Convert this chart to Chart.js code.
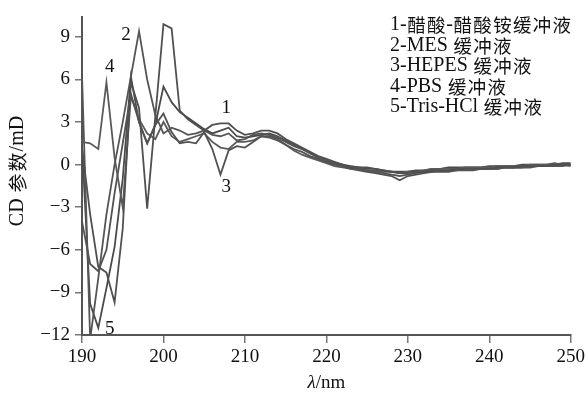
<!DOCTYPE html>
<html><head><meta charset="utf-8">
<script src="https://cdn.jsdelivr.net/npm/chart.js@4"></script>
<style>html,body{margin:0;padding:0;background:#fff;overflow:hidden}</style>
</head><body>
<canvas id="c" width="588" height="395"></canvas>
<script>
// ---- data (wavelength in nm, CD in mD) ----
const wavelengths = [190,191,192,193,194,195,196,197,198,199,200,201,202,203,204,205,206,207,208,209,210,
  211,212,213,214,215,216,217,218,219,220,221,222,223,224,225,226,227,228,229,230,
  231,232,233,234,235,236,237,238,239,240,241,242,243,244,245,246,247,248,249,250];
const acetate = [1.2,-3.5,-7.2,-7.6,-9.7,-4.5,5.8,4.0,-3.1,3.4,9.9,9.6,3.8,3.2,2.8,2.4,2.8,2.9,2.9,2.4,2.1,
  2.2,2.4,2.4,2.2,1.8,1.5,1.2,0.9,0.6,0.4,0.2,0.0,-0.2,-0.2,-0.2,-0.3,-0.4,-0.5,-0.6,-0.6,
  -0.5,-0.5,-0.4,-0.4,-0.4,-0.3,-0.3,-0.3,-0.3,-0.3,-0.2,-0.2,-0.2,-0.1,-0.1,-0.1,-0.1,0.0,0.0,-0.1];
const mes = [6.3,-12.3,-8.0,-3.5,0.0,3.0,6.2,9.4,6.0,3.5,2.2,2.6,2.4,2.1,2.2,2.4,2.1,2.0,2.2,1.7,1.8,
  2.1,2.2,2.1,1.9,1.6,1.3,1.1,0.8,0.5,0.3,0.1,-0.1,-0.2,-0.3,-0.4,-0.5,-0.6,-0.7,-0.8,-0.7,
  -0.6,-0.5,-0.5,-0.4,-0.4,-0.4,-0.3,-0.3,-0.3,-0.3,-0.3,-0.2,-0.2,-0.2,-0.2,-0.1,-0.1,-0.1,-0.1,0.0];
const hepes = [-4.0,-7.0,-7.5,-6.0,-2.0,1.5,5.0,3.0,1.5,2.8,3.6,2.3,1.5,1.6,1.5,2.3,1.1,-0.7,1.0,1.3,1.2,
  1.6,2.0,2.0,1.8,1.4,1.1,0.9,0.6,0.4,0.2,0.0,-0.1,-0.3,-0.4,-0.5,-0.6,-0.7,-0.8,-1.1,-0.8,
  -0.7,-0.6,-0.5,-0.5,-0.5,-0.4,-0.4,-0.4,-0.3,-0.3,-0.3,-0.2,-0.2,-0.2,-0.1,-0.1,-0.1,-0.1,0.0,0.0];
const pbs = [1.6,1.5,1.1,5.8,0.5,-3.0,4.8,3.2,2.2,1.8,3.0,2.0,1.6,1.8,2.0,2.2,1.6,1.2,1.1,1.6,1.6,
  1.7,2.0,1.9,1.7,1.4,1.0,0.7,0.5,0.3,0.1,-0.1,-0.2,-0.3,-0.3,-0.4,-0.4,-0.5,-0.5,-0.6,-0.5,
  -0.5,-0.4,-0.3,-0.3,-0.3,-0.3,-0.2,-0.2,-0.2,-0.2,-0.1,-0.1,-0.1,-0.1,0.0,0.0,0.0,0.1,0.0,0.0];
const trisHCl = [1.4,-9.8,-11.5,-8.7,-5.8,-1.0,6.2,3.0,1.5,2.8,5.5,4.4,3.7,3.3,2.9,2.5,2.2,2.4,2.6,2.0,1.9,
  2.0,2.1,2.2,2.0,1.7,1.4,1.1,0.8,0.5,0.3,0.1,0.0,-0.1,-0.2,-0.3,-0.3,-0.4,-0.5,-0.5,-0.5,
  -0.4,-0.4,-0.3,-0.3,-0.2,-0.2,-0.2,-0.2,-0.2,-0.1,-0.1,-0.1,-0.1,0.0,0.0,0.0,0.0,0.0,0.1,0.1];
const seriesList = [acetate, mes, hepes, pbs, trisHCl];
const legendLines = ['1-醋酸-醋酸铵缓冲液', '2-MES 缓冲液', '3-HEPES 缓冲液', '4-PBS 缓冲液', '5-Tris-HCl 缓冲液'];
const curveTags = ['1', '2', '3', '4', '5'];
const tagAnchors = [[207.7, 4.0], [195.4, 9.1], [207.7, -1.6], [193.4, 6.9], [193.4, -11.6]]; // in data units
const yTicks = [-12, -9, -6, -3, 0, 3, 6, 9];
const xTicks = [190, 200, 210, 220, 230, 240, 250];
const yTitle = 'CD 参数/mD';

// ---- drawing helpers ----
const LATIN = "'Liberation Serif', 'Times New Roman', serif";
const CJK = "'Noto Sans CJK SC', sans-serif";
function runs(text) {
  const out = [];
  for (const ch of text) {
    const c = /[\u3000-\u9fff\uff00-\uffef]/.test(ch);
    if (out.length && out[out.length - 1].cjk === c) out[out.length - 1].t += ch;
    else out.push({ cjk: c, t: ch });
  }
  return out;
}
function mixedWidth(ctx, text, lsize, csize, cadv) {
  let w = 0;
  for (const r of runs(text)) {
    if (r.cjk) w += [...r.t].length * cadv;
    else { ctx.font = lsize + 'px ' + LATIN; w += ctx.measureText(r.t).width; }
  }
  return w;
}
function drawMixed(ctx, text, x, y, lsize, csize, cadv) {
  let cx = x;
  for (const r of runs(text)) {
    if (r.cjk) {
      ctx.font = csize + 'px ' + CJK;
      for (const ch of r.t) { ctx.fillText(ch, cx + (cadv - csize) / 2, y); cx += cadv; }
    } else {
      ctx.font = lsize + 'px ' + LATIN;
      ctx.fillText(r.t, cx, y);
      cx += ctx.measureText(r.t).width;
    }
  }
}

const textPlugin = {
  id: 'texts',
  afterDraw(chart) {
    const ctx = chart.ctx, xs = chart.scales.x, ys = chart.scales.y, area = chart.chartArea;
    ctx.save();
    ctx.fillStyle = '#111';
    ctx.textBaseline = 'middle';
    ctx.textAlign = 'left';
    // legend text block
    legendLines.forEach((t, i) => drawMixed(ctx, t, 390, 25 + i * 20.5, 20, 18.5, 19.8));
    // curve number tags
    ctx.textAlign = 'center';
    ctx.font = '19px ' + LATIN;
    curveTags.forEach((t, i) => {
      ctx.fillText(t, xs.getPixelForValue(tagAnchors[i][0]), ys.getPixelForValue(tagAnchors[i][1]));
    });
    // y title (rotated)
    ctx.textAlign = 'left';
    ctx.save();
    ctx.translate(18, 171);
    ctx.rotate(-Math.PI / 2);
    const w = mixedWidth(ctx, yTitle, 20, 19, 21);
    drawMixed(ctx, yTitle, -w / 2, 0, 20, 19, 21);
    ctx.restore();
    // x title
    const cx = (area.left + area.right) / 2;
    ctx.font = 'italic 19px ' + LATIN;
    const w1 = ctx.measureText('λ').width;
    ctx.font = '19px ' + LATIN;
    const w2 = ctx.measureText('/nm').width;
    const x0 = cx - (w1 + w2) / 2;
    ctx.font = 'italic 19px ' + LATIN;
    ctx.fillText('λ', x0, 383);
    ctx.font = '19px ' + LATIN;
    ctx.fillText('/nm', x0 + w1, 383);
    ctx.restore();
  }
};

const colors = ['#505050', '#555', '#525252', '#5a5a5a', '#4a4a4a'];
new Chart(document.getElementById('c'), {
  type: 'line',
  data: {
    datasets: seriesList.map((s, i) => ({
      label: legendLines[i],
      data: wavelengths.map((w, j) => ({ x: w, y: s[j] })),
      borderColor: colors[i],
      borderWidth: 1.8,
      pointRadius: 0,
      tension: 0,
      fill: false
    }))
  },
  options: {
    responsive: false,
    animation: false,
    devicePixelRatio: 1,
    layout: { padding: { left: 0, right: 15, top: 17, bottom: 0 } },
    plugins: { legend: { display: false }, tooltip: { enabled: false } },
    scales: {
      x: {
        type: 'linear', min: 190, max: 250,
        afterFit(s) { s.height = 60; },
        afterBuildTicks(s) { s.ticks = xTicks.map(v => ({ value: v })); },
        border: { display: true, color: '#555', width: 2 },
        grid: { display: true, drawOnChartArea: false, drawTicks: true, tickLength: 8, color: '#777', lineWidth: 1.5 },
        ticks: { color: '#111', font: { family: LATIN, size: 19 }, padding: 3, maxRotation: 0 }
      },
      y: {
        type: 'linear', min: -12, max: 10.4,
        afterFit(s) { s.width = 82; },
        afterBuildTicks(s) { s.ticks = yTicks.map(v => ({ value: v })); },
        border: { display: true, color: '#555', width: 2 },
        grid: { display: true, drawOnChartArea: false, drawTicks: true, tickLength: 7, color: '#777', lineWidth: 1.5 },
        ticks: { color: '#111', font: { family: LATIN, size: 19 }, padding: 5,
          callback: v => (v < 0 ? '\u2212' + Math.abs(v) : String(v)) }
      }
    }
  },
  plugins: [textPlugin]
});
</script>
</body></html>
